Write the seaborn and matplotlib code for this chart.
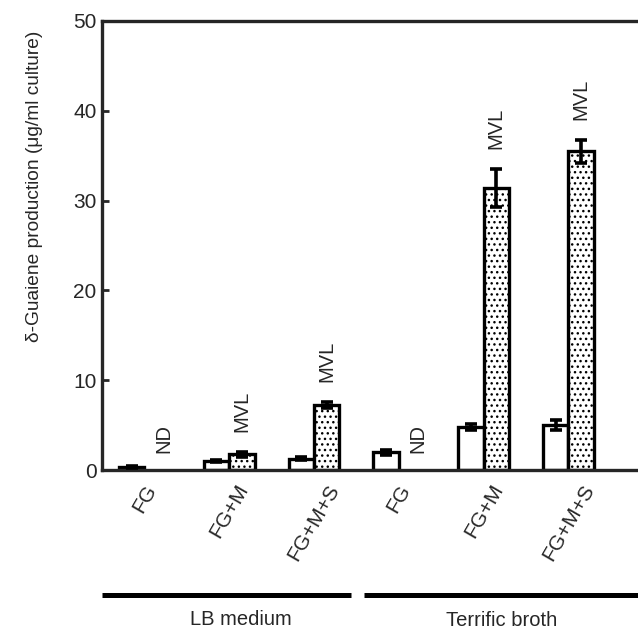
import matplotlib
matplotlib.use('Agg')
import matplotlib.pyplot as plt
import matplotlib.transforms as mtransforms
import seaborn as sns
import pandas as pd

# ---- data ----
groups = ['LB FG', 'LB FG+M', 'LB FG+M+S', 'TB FG', 'TB FG+M', 'TB FG+M+S']
tick_labels = ['FG', 'FG+M', 'FG+M+S', 'FG', 'FG+M', 'FG+M+S']
series = ['no MVL', 'MVL']
base_vals = [0.3, 1.0, 1.25, 1.95, 4.75, 5.0]
base_err = [0.1, 0.1, 0.15, 0.25, 0.35, 0.6]
mvl_vals = [0.0, 1.75, 7.2, 0.0, 31.4, 35.5]   # 0 = not detected
mvl_err = [0.0, 0.3, 0.35, 0.0, 2.1, 1.3]
notes = ['ND', 'MVL', 'MVL', 'ND', 'MVL', 'MVL']
media = ['LB medium', 'Terrific broth']

df = pd.DataFrame({
    'group': groups * 2,
    'series': [series[0]] * 6 + [series[1]] * 6,
    'value': base_vals + mvl_vals,
})

sns.set_style('ticks')
plt.rcParams['font.family'] = ['Liberation Sans', 'DejaVu Sans']

fig = plt.figure(figsize=(6.38, 6.32), dpi=100)
ax = fig.add_axes([102 / 638, 162 / 632, 536 / 638, 449 / 632])

sns.barplot(data=df, x='group', y='value', hue='series', order=groups,
            hue_order=series, palette=['white', 'white'], saturation=1,
            width=0.6, edgecolor='black', linewidth=2.4, errorbar=None,
            legend=False, ax=ax)

# dotted fill for the MVL bars, hide the not-detected ones
for p in ax.containers[1]:
    p.set_hatch('...')
    if p.get_height() == 0:
        p.set_visible(False)

# error bars
for cont, errs in zip(ax.containers, [base_err, mvl_err]):
    for p, e in zip(cont, errs):
        if p.get_height() == 0:
            continue
        xc = p.get_x() + p.get_width() / 2
        ax.errorbar(xc, p.get_height(), yerr=e, fmt='none', ecolor='black',
                    elinewidth=2.6, capsize=4.2, capthick=2.6, zorder=5)

# MVL / ND notes above the second bar of each group
for p, e, note in zip(ax.containers[1], mvl_err, notes):
    xc = p.get_x() + p.get_width() / 2
    if note == 'ND':
        ax.text(xc + 0.08, 1.85, note, rotation=90, ha='center', va='bottom', fontsize=14.5)
    else:
        ax.text(xc, p.get_height() + e + 2.2, note, rotation=90, ha='center',
                va='bottom', fontsize=14.5)

ax.set_ylim(0, 50)
ax.set_xlim(-0.5, 5.82)
ax.set_yticks([0, 10, 20, 30, 40, 50])
ax.set_xticks(range(len(groups)))
ax.set_xticklabels(tick_labels, rotation=60, ha='center')
shift = mtransforms.ScaledTranslation(-8 / 100, 0, fig.dpi_scale_trans)
for lab in ax.get_xticklabels():
    lab.set_transform(lab.get_transform() + shift)

ax.set_xlabel('')
ax.set_ylabel('δ-Guaiene production (μg/ml culture)', fontsize=13.8)
ax.yaxis.set_label_coords(-0.11, 0.632)

ax.tick_params(axis='y', direction='in', length=5, width=2, labelsize=15, pad=4)
ax.tick_params(axis='x', length=0, labelsize=15, pad=8)

for side in ['left', 'top', 'bottom']:
    ax.spines[side].set_linewidth(2.4)
ax.spines['right'].set_visible(False)

# medium brackets under the categories
trans = mtransforms.blended_transform_factory(ax.transData, ax.transAxes)
ax.plot([-0.5, 2.44], [-0.278, -0.278], color='black', lw=3.6, transform=trans,
        clip_on=False, solid_capstyle='butt')
ax.plot([2.59, 6.2], [-0.278, -0.278], color='black', lw=3.6, transform=trans,
        clip_on=False, solid_capstyle='butt')
ax.text(1.14, -0.332, media[0], transform=trans, ha='center', va='center', fontsize=14.5)
ax.text(4.21, -0.335, media[1], transform=trans, ha='center', va='center', fontsize=14.5)

fig.savefig('out.png', dpi=100)
